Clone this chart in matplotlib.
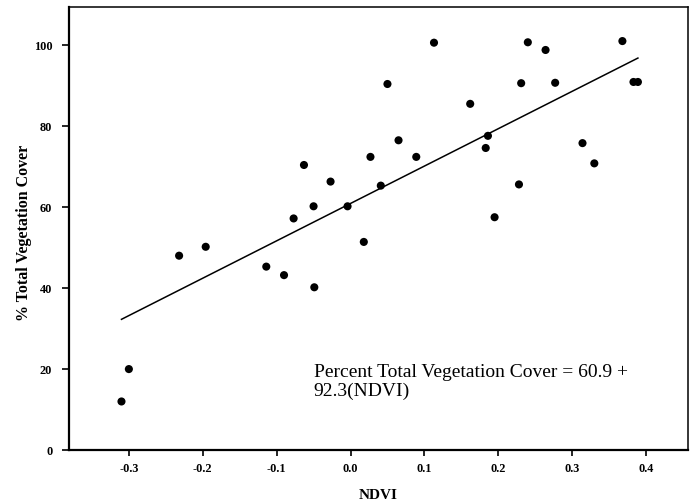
import numpy as np
import matplotlib
matplotlib.use("Agg")
import matplotlib.pyplot as plt

#   NDVI vs percent total vegetation cover
ndvi = [-0.310, -0.300, -0.232, -0.196, -0.114, -0.090, -0.049, -0.077, -0.063,
        -0.050, -0.027, -0.004, 0.018, 0.027, 0.041, 0.050, 0.065, 0.089,
        0.113, 0.162, 0.183, 0.186, 0.195, 0.228, 0.231, 0.240, 0.264, 0.277,
        0.314, 0.330, 0.368, 0.383, 0.389]
cover = [12.0, 20.0, 48.0, 50.2, 45.3, 43.2, 40.2, 57.2, 70.4,
         60.2, 66.3, 60.2, 51.4, 72.4, 65.3, 90.4, 76.5, 72.4,
         100.6, 85.5, 74.6, 77.6, 57.5, 65.6, 90.6, 100.7, 98.8, 90.7,
         75.8, 70.8, 101.0, 90.9, 90.9]

#   Regression line coefficients
intercept = 60.9
slope = 92.3

xTicks = [-0.3, -0.2, -0.1, 0.0, 0.1, 0.2, 0.3, 0.4]
xTickLabels = ["-0.3", "-0.2", "-0.1", "0.0", "0.1", "0.2", "0.3", "0.4"]
yTicks = [0, 20, 40, 60, 80, 100]
yTickLabels = ["0", "20", "40", "60", "80", "100"]

plt.rcParams['font.family'] = ['Liberation Serif', 'DejaVu Serif']

fig = plt.figure(figsize=(6.93, 5.04), dpi=100)
ax = fig.add_axes([0.0996, 0.107, 0.8934, 0.879])

#   Scatter points
ax.scatter(ndvi, cover, s=34, color='black', edgecolors='none', zorder=3)

#   Fitted line over data range
lineX = np.array([min(ndvi), max(ndvi)])
lineY = intercept + slope * lineX
ax.plot(lineX, lineY, color='black', linewidth=1.1)

ax.text(-0.05, 13.4, "Percent Total Vegetation Cover = 60.9 +\n92.3(NDVI)",
        fontsize=14, va='baseline', ha='left', linespacing=1.1)

ax.set_xlim(-0.381, 0.457)
ax.set_ylim(0, 109.4)
ax.set_xticks(xTicks)
ax.set_xticklabels(xTickLabels)
ax.set_yticks(yTicks)
ax.set_yticklabels(yTickLabels)

for lab in ax.get_xticklabels() + ax.get_yticklabels():
    lab.set_fontweight('bold')
    lab.set_fontsize(8.8)

ax.tick_params(axis='x', direction='out', length=4, width=1.2, pad=5)
ax.tick_params(axis='y', direction='out', length=5, width=1.2, pad=7)

ax.spines['left'].set_linewidth(1.6)
ax.spines['bottom'].set_linewidth(1.6)
ax.spines['top'].set_linewidth(1.1)
ax.spines['right'].set_linewidth(1.1)

ax.set_xlabel("NDVI", fontsize=11, fontweight='bold')
ax.set_ylabel("% Total Vegetation Cover", fontsize=11.5, fontweight='bold')
ax.xaxis.set_label_coords(0.5, -0.088)
ax.yaxis.set_label_coords(-0.059, 0.49)

fig.savefig("out.png", dpi=100)
